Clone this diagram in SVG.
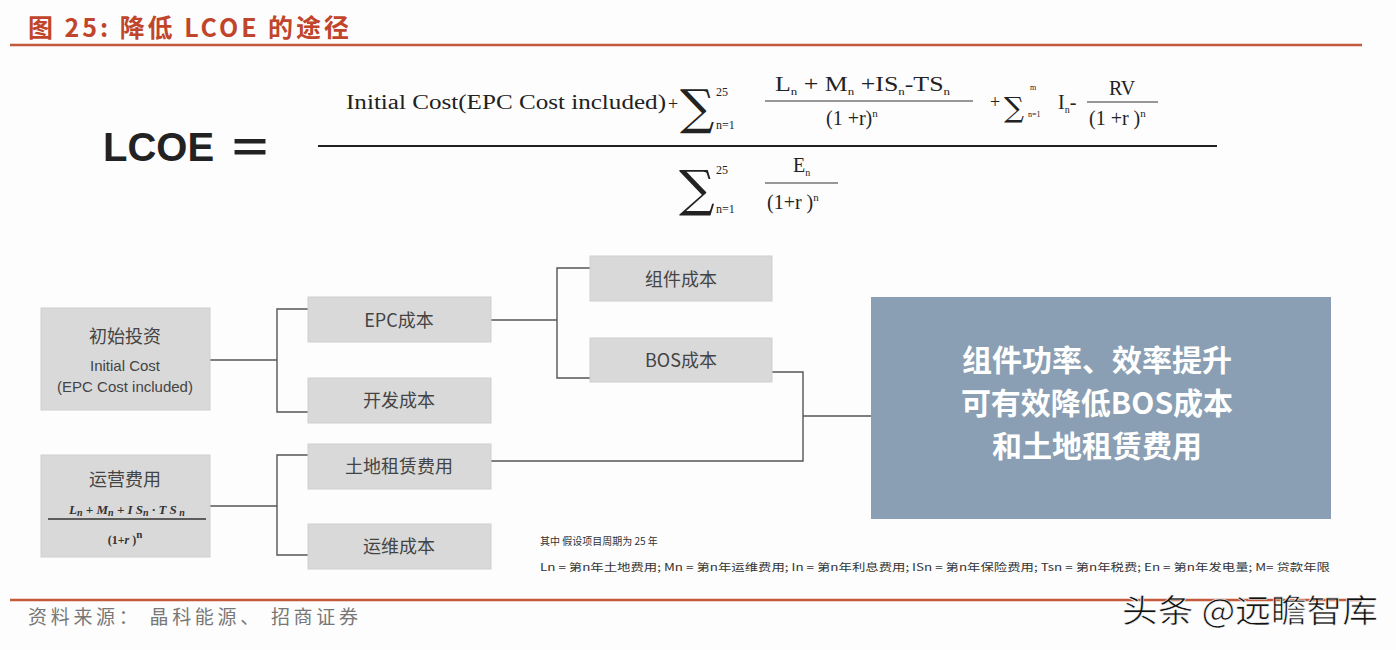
<svg xmlns="http://www.w3.org/2000/svg" width="1396" height="650" viewBox="0 0 1396 650">
<defs>
<style>
.rule{stroke:#c45a3c;stroke-width:2.5;fill:none}
.box{fill:#d9d9d9;stroke:#cfcfcf;stroke-width:1}
.lbl{font-family:"Noto Sans CJK SC","Liberation Sans",sans-serif;font-size:18px;fill:#444;text-anchor:middle}
.en{font-family:"Liberation Sans","Noto Sans CJK SC",sans-serif;font-size:15px;fill:#444;text-anchor:middle}
.f{font-family:"Liberation Serif","DejaVu Serif",serif;fill:#222}
.sig{font-family:"DejaVu Serif","Liberation Serif",serif;fill:#222}
.con{stroke:#555;stroke-width:1.4;fill:none}
.foot{font-family:"Noto Sans CJK SC",sans-serif;font-size:10px;fill:#333}
</style>
</defs>
<rect x="0" y="0" width="1396" height="650" fill="#fdfdfd"/>

<g id="title">
<text x="28" y="37" font-family="'Noto Sans CJK SC',sans-serif" font-weight="bold" font-size="25" fill="#c0452b" textLength="321" lengthAdjust="spacing">图 25:  降低 LCOE 的途径</text>
<line class="rule" x1="10" y1="45" x2="1362" y2="45"/>
</g>

<g id="formula">
<text x="103" y="161" font-family="'Liberation Sans',sans-serif" font-weight="bold" font-size="40" fill="#222">LCOE</text>
<text x="232" y="161" font-family="'Liberation Sans',sans-serif" font-weight="bold" font-size="40" fill="#222" textLength="36" lengthAdjust="spacingAndGlyphs">=</text>
<line x1="318" y1="146" x2="1217" y2="146" stroke="#222" stroke-width="2"/>
<!-- numerator -->
<text class="f" x="346" y="109" font-size="20" textLength="320" lengthAdjust="spacingAndGlyphs">Initial Cost(EPC Cost included)</text>
<text class="f" x="668" y="110" font-size="18">+</text>
<text class="sig" x="680" y="124" font-size="48">∑</text>
<text class="f" x="716" y="96" font-size="12">25</text>
<text class="f" x="716" y="129" font-size="12">n=1</text>
<text class="f" x="775" y="91" font-size="20" textLength="175" lengthAdjust="spacingAndGlyphs">L<tspan font-size="10" dy="4">n</tspan><tspan dy="-4"> + M</tspan><tspan font-size="10" dy="4">n</tspan><tspan dy="-4"> +IS</tspan><tspan font-size="10" dy="4">n</tspan><tspan dy="-4">-TS</tspan><tspan font-size="10" dy="4">n</tspan></text>
<line x1="765" y1="101" x2="973" y2="101" stroke="#333" stroke-width="1.2"/>
<text class="f" x="826" y="125" font-size="20">(1 +r)<tspan font-size="11" dy="-8">n</tspan></text>
<text class="f" x="990" y="108" font-size="18">+</text>
<text class="sig" x="1004" y="117" font-size="28">∑</text>
<text class="f" x="1030" y="90" font-size="8">m</text>
<text class="f" x="1028" y="117" font-size="8">n=1</text>
<text class="f" x="1058" y="109" font-size="20">I<tspan font-size="10" dy="4">n</tspan><tspan dy="-4">-</tspan></text>
<text class="f" x="1109" y="95" font-size="20">RV</text>
<line x1="1087" y1="102" x2="1158" y2="102" stroke="#333" stroke-width="1.2"/>
<text class="f" x="1089" y="125" font-size="20">(1 +r )<tspan font-size="11" dy="-8">n</tspan></text>
<!-- denominator -->
<text class="sig" x="679" y="206" font-size="50">∑</text>
<text class="f" x="716" y="174" font-size="12">25</text>
<text class="f" x="716" y="213" font-size="12">n=1</text>
<text class="f" x="793" y="172" font-size="20">E<tspan font-size="10" dy="4">n</tspan></text>
<line x1="765" y1="183" x2="838" y2="183" stroke="#333" stroke-width="1.2"/>
<text class="f" x="767" y="209" font-size="20">(1+r )<tspan font-size="11" dy="-8">n</tspan></text>
</g>

<g id="connectors">
<polyline class="con" points="210,360 277,360"/>
<polyline class="con" points="308,309 277,309 277,412 308,412"/>
<polyline class="con" points="491,320 557,320"/>
<polyline class="con" points="590,268 557,268 557,378 590,378"/>
<polyline class="con" points="772,372 803,372 803,461 491,461"/>
<polyline class="con" points="803,416 871,416"/>
<polyline class="con" points="210,506 277,506"/>
<polyline class="con" points="308,455 277,455 277,555 308,555"/>
</g>

<g id="node-initial">
<rect class="box" x="41" y="308" width="169" height="102"/>
<text class="lbl" x="125" y="343">初始投资</text>
<text class="en" x="125" y="371">Initial Cost</text>
<text class="en" x="125" y="392">(EPC Cost included)</text>
</g>

<g id="node-opex">
<rect class="box" x="41" y="455" width="169" height="102"/>
<text class="lbl" x="125" y="486">运营费用</text>
<text x="127" y="514" font-family="'Liberation Serif',serif" font-style="italic" font-weight="bold" font-size="13" fill="#333" text-anchor="middle">L<tspan font-size="10" dy="2">n</tspan><tspan dy="-2"> + M</tspan><tspan font-size="10" dy="2">n</tspan><tspan dy="-2">  + I S</tspan><tspan font-size="10" dy="2">n</tspan><tspan dy="-2"> · T S</tspan><tspan font-size="10" dy="2"> n</tspan></text>
<line x1="48" y1="519" x2="206" y2="519" stroke="#333" stroke-width="1.3"/>
<text x="125" y="544" font-family="'Liberation Serif',serif" font-weight="bold" font-size="12" fill="#333" text-anchor="middle">(1+<tspan font-style="italic">r</tspan> )<tspan font-size="11" dy="-6">n</tspan></text>
</g>

<g id="node-epc">
<rect class="box" x="308" y="297" width="183" height="45"/>
<text class="lbl" x="399" y="327">EPC成本</text>
</g>
<g id="node-dev">
<rect class="box" x="308" y="378" width="183" height="45"/>
<text class="lbl" x="399" y="407">开发成本</text>
</g>
<g id="node-module">
<rect class="box" x="590" y="256" width="182" height="45"/>
<text class="lbl" x="681" y="286">组件成本</text>
</g>
<g id="node-bos">
<rect class="box" x="590" y="338" width="182" height="44"/>
<text class="lbl" x="681" y="367">BOS成本</text>
</g>
<g id="node-land">
<rect class="box" x="308" y="444" width="183" height="45"/>
<text class="lbl" x="399" y="473">土地租赁费用</text>
</g>
<g id="node-om">
<rect class="box" x="308" y="524" width="183" height="45"/>
<text class="lbl" x="399" y="553">运维成本</text>
</g>

<g id="node-conclusion">
<rect x="871" y="297" width="460" height="222" fill="#8a9fb3"/>
<g font-family="'Noto Sans CJK SC',sans-serif" font-weight="bold" font-size="30" fill="#fff" text-anchor="middle">
<text x="1097" y="371">组件功率、效率提升</text>
<text x="1097" y="414">可有效降低BOS成本</text>
<text x="1097" y="457">和土地租赁费用</text>
</g>
</g>

<g id="footnote">
<text class="foot" x="540" y="545">其中 假设项目周期为 25 年</text>
<text class="foot" x="540" y="571" textLength="790" lengthAdjust="spacingAndGlyphs">Ln = 第n年土地费用; Mn = 第n年运维费用; In  = 第n年利息费用; ISn = 第n年保险费用;  Tsn = 第n年税费; En  = 第n年发电量; M= 贷款年限</text>
</g>

<g id="source">
<line class="rule" x1="10" y1="600" x2="1362" y2="600"/>
<text x="28" y="624" font-family="'Noto Sans CJK SC',sans-serif" font-size="19" fill="#777" textLength="330" lengthAdjust="spacing">资料来源： 晶科能源、 招商证券</text>
<text x="1122" y="622" font-family="'Noto Sans CJK SC',sans-serif" font-size="32" fill="#111" stroke="#fff" stroke-width="0.6" textLength="256" lengthAdjust="spacingAndGlyphs">头条 @远瞻智库</text>
</g>
</svg>
